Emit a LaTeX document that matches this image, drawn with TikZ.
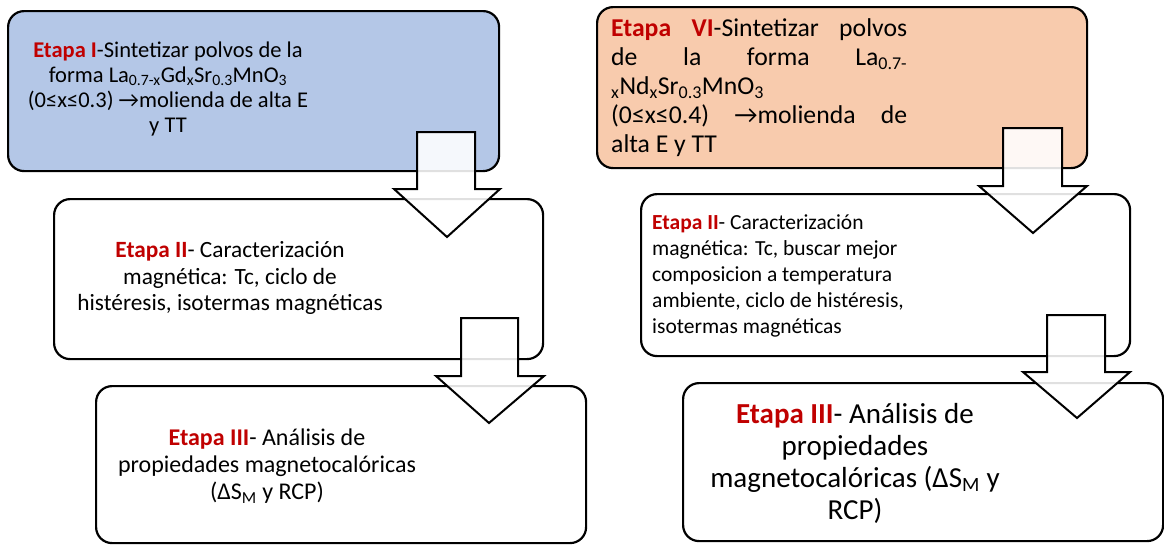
\documentclass[tikz,border=0pt]{standalone}
\usepackage{fontspec}
\setmainfont{Carlito}
\definecolor{boxblue}{HTML}{B4C7E7}
\definecolor{boxpeach}{HTML}{F8CBAD}
\definecolor{etred}{HTML}{C00000}
\newcommand{\et}[1]{{\color{etred}\bfseries #1}}
\newcommand{\flowarrow}[8]{%
  \draw[blockarrow] (#1,#3) -- (#2,#3) -- (#2,#4) -- (#6,#4) -- (#7,#8) -- (#5,#4) -- (#1,#4) -- cycle;}
\begin{document}
\begin{tikzpicture}[x=1pt,y=-1pt,
  box/.style={draw=black, line width=2.2pt, rounded corners=16pt, anchor=north west, inner sep=0pt},
  txt/.style={inner sep=0pt, text=black},
  blockarrow/.style={draw=black, line width=2pt, fill=white, fill opacity=0.88, line join=miter}]
\useasboundingbox (0,0) rectangle (1164,544);
% boxes
\node[box, fill=boxblue, minimum width=491pt, minimum height=160pt] (b1) at (7,10) {};
\node[box, fill=white, minimum width=489pt, minimum height=160pt] (b2) at (53,198) {};
\node[box, fill=white, minimum width=490pt, minimum height=157pt] (b3) at (95,385) {};
\node[box, fill=boxpeach, minimum width=490pt, minimum height=161pt] (b4) at (596,6) {};
\node[box, fill=white, minimum width=489pt, minimum height=162pt] (b5) at (640,193) {};
\node[box, fill=white, minimum width=480pt, minimum height=158pt] (b6) at (682,382) {};
% texts
\node[txt, align=center, font=\fontsize{22.5pt}{25pt}\selectfont] (t1) at (168,89)
  {\et{Etapa I}-Sintetizar polvos de la\\
   forma La\textsubscript{0.7-x}Gd\textsubscript{x}Sr\textsubscript{0.3}MnO\textsubscript{3}\\
   (0≤x≤0.3) →molienda de alta E\\
   y TT};
\node[txt, align=center, font=\fontsize{23.3pt}{26.5pt}\selectfont] (t2) at (230,278)
  {\et{Etapa II}- Caracterización\\
   magnética: Tc, ciclo de\\
   histéresis, isotermas magnéticas};
\node[txt, align=center, font=\fontsize{24pt}{27pt}\selectfont] (t3) at (267,466)
  {\et{Etapa III}- Análisis de\\
   propiedades magnetocalóricas\\
   (ΔS\textsubscript{M} y RCP)};
\node[txt, align=left, anchor=west, font=\fontsize{25.7pt}{29pt}\selectfont] (t4) at (611,88)
  {\makebox[296pt][s]{\et{Etapa VI}-Sintetizar polvos}\\
   \makebox[296pt][s]{de la forma La\textsubscript{0.7-}}\\
   \textsubscript{x}Nd\textsubscript{x}Sr\textsubscript{0.3}MnO\textsubscript{3}\\
   \makebox[296pt][s]{(0≤x≤0.4) →molienda de}\\
   alta E y TT};
\node[txt, align=left, anchor=west, font=\fontsize{21.5pt}{26pt}\selectfont] (t5) at (652,276)
  {\et{Etapa II}- Caracterización\\
   magnética: Tc, buscar mejor\\
   composicion a temperatura\\
   ambiente, ciclo de histéresis,\\
   isotermas magnéticas};
\node[txt, align=center, font=\fontsize{29pt}{32pt}\selectfont] (t6) at (855,463)
  {\et{Etapa III}- Análisis de\\
   propiedades\\
   magnetocalóricas (ΔS\textsubscript{M} y\\
   RCP)};
% block arrows
\flowarrow{417}{475}{132}{189}{394}{500}{447}{237}
\flowarrow{461}{518}{318}{376}{436}{544}{489}{423}
\flowarrow{1003}{1062}{128}{186}{979}{1087}{1033}{233}
\flowarrow{1047}{1105}{315}{372}{1023}{1130}{1077}{418}
\end{tikzpicture}
\end{document}
